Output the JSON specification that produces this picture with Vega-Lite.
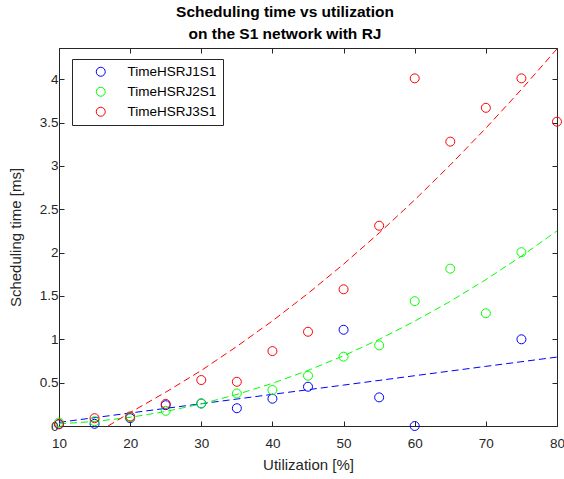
{
  "$schema": "https://vega.github.io/schema/vega-lite/v6.json",
  "width": 498,
  "height": 378,
  "autosize": {"type": "none"},
  "padding": {"left": 59, "top": 48, "right": 7, "bottom": 53},
  "background": "white",
  "title": {
    "text": ["Scheduling time vs utilization", "on the S1 network with RJ"],
    "fontSize": 15.5,
    "fontWeight": "bold",
    "font": "Liberation Sans",
    "color": "black",
    "lineHeight": 22,
    "offset": 5,
    "anchor": "middle",
    "dx": -23
  },
  "datasets": {
    "pts": [
      {"series": "TimeHSRJ1S1", "u": 10, "t": 0.02},
      {"series": "TimeHSRJ1S1", "u": 15, "t": 0.025},
      {"series": "TimeHSRJ1S1", "u": 20, "t": 0.09},
      {"series": "TimeHSRJ1S1", "u": 25, "t": 0.24},
      {"series": "TimeHSRJ1S1", "u": 30, "t": 0.26},
      {"series": "TimeHSRJ1S1", "u": 35, "t": 0.205},
      {"series": "TimeHSRJ1S1", "u": 40, "t": 0.315},
      {"series": "TimeHSRJ1S1", "u": 45, "t": 0.453},
      {"series": "TimeHSRJ1S1", "u": 50, "t": 1.11},
      {"series": "TimeHSRJ1S1", "u": 55, "t": 0.33},
      {"series": "TimeHSRJ1S1", "u": 60, "t": 0.0},
      {"series": "TimeHSRJ1S1", "u": 75, "t": 1.0},
      {"series": "TimeHSRJ2S1", "u": 10, "t": 0.04},
      {"series": "TimeHSRJ2S1", "u": 15, "t": 0.055},
      {"series": "TimeHSRJ2S1", "u": 20, "t": 0.1},
      {"series": "TimeHSRJ2S1", "u": 25, "t": 0.175},
      {"series": "TimeHSRJ2S1", "u": 30, "t": 0.26},
      {"series": "TimeHSRJ2S1", "u": 35, "t": 0.375},
      {"series": "TimeHSRJ2S1", "u": 40, "t": 0.415},
      {"series": "TimeHSRJ2S1", "u": 45, "t": 0.58},
      {"series": "TimeHSRJ2S1", "u": 50, "t": 0.8},
      {"series": "TimeHSRJ2S1", "u": 55, "t": 0.93},
      {"series": "TimeHSRJ2S1", "u": 60, "t": 1.44},
      {"series": "TimeHSRJ2S1", "u": 65, "t": 1.815},
      {"series": "TimeHSRJ2S1", "u": 70, "t": 1.3},
      {"series": "TimeHSRJ2S1", "u": 75, "t": 2.005},
      {"series": "TimeHSRJ3S1", "u": 10, "t": 0.023},
      {"series": "TimeHSRJ3S1", "u": 15, "t": 0.09},
      {"series": "TimeHSRJ3S1", "u": 20, "t": 0.11},
      {"series": "TimeHSRJ3S1", "u": 25, "t": 0.255},
      {"series": "TimeHSRJ3S1", "u": 30, "t": 0.53},
      {"series": "TimeHSRJ3S1", "u": 35, "t": 0.51},
      {"series": "TimeHSRJ3S1", "u": 40, "t": 0.864},
      {"series": "TimeHSRJ3S1", "u": 45, "t": 1.087},
      {"series": "TimeHSRJ3S1", "u": 50, "t": 1.577},
      {"series": "TimeHSRJ3S1", "u": 55, "t": 2.31},
      {"series": "TimeHSRJ3S1", "u": 60, "t": 4.01},
      {"series": "TimeHSRJ3S1", "u": 65, "t": 3.28},
      {"series": "TimeHSRJ3S1", "u": 70, "t": 3.67},
      {"series": "TimeHSRJ3S1", "u": 75, "t": 4.01},
      {"series": "TimeHSRJ3S1", "u": 80, "t": 3.51}
    ],
    "fits": [
      {"curve": "fit1", "u": 10, "t": 0.042},
      {"curve": "fit1", "u": 20, "t": 0.15},
      {"curve": "fit1", "u": 30, "t": 0.257},
      {"curve": "fit1", "u": 40, "t": 0.365},
      {"curve": "fit1", "u": 50, "t": 0.472},
      {"curve": "fit1", "u": 60, "t": 0.58},
      {"curve": "fit1", "u": 70, "t": 0.688},
      {"curve": "fit1", "u": 80, "t": 0.795},
      {"curve": "fit2", "u": 10, "t": 0.025},
      {"curve": "fit2", "u": 15, "t": 0.052},
      {"curve": "fit2", "u": 20, "t": 0.1},
      {"curve": "fit2", "u": 25, "t": 0.167},
      {"curve": "fit2", "u": 30, "t": 0.255},
      {"curve": "fit2", "u": 35, "t": 0.364},
      {"curve": "fit2", "u": 40, "t": 0.492},
      {"curve": "fit2", "u": 45, "t": 0.641},
      {"curve": "fit2", "u": 50, "t": 0.81},
      {"curve": "fit2", "u": 55, "t": 0.999},
      {"curve": "fit2", "u": 60, "t": 1.209},
      {"curve": "fit2", "u": 65, "t": 1.438},
      {"curve": "fit2", "u": 70, "t": 1.688},
      {"curve": "fit2", "u": 75, "t": 1.959},
      {"curve": "fit2", "u": 80, "t": 2.25},
      {"curve": "fit3", "u": 16.9, "t": 0.0},
      {"curve": "fit3", "u": 20, "t": 0.155},
      {"curve": "fit3", "u": 25, "t": 0.39},
      {"curve": "fit3", "u": 30, "t": 0.64},
      {"curve": "fit3", "u": 35, "t": 0.918},
      {"curve": "fit3", "u": 40, "t": 1.212},
      {"curve": "fit3", "u": 45, "t": 1.529},
      {"curve": "fit3", "u": 50, "t": 1.867},
      {"curve": "fit3", "u": 55, "t": 2.226},
      {"curve": "fit3", "u": 60, "t": 2.608},
      {"curve": "fit3", "u": 65, "t": 3.011},
      {"curve": "fit3", "u": 70, "t": 3.435},
      {"curve": "fit3", "u": 75, "t": 3.882},
      {"curve": "fit3", "u": 80, "t": 4.35}
    ]
  },
  "config": {
    "font": "Liberation Sans",
    "view": {"stroke": "#262626", "strokeWidth": 1},
    "axis": {
      "grid": false,
      "labelFlush": false,
      "labelOverlap": false,
      "domainColor": "#262626",
      "tickColor": "#262626",
      "tickSize": -5,
      "labelColor": "#262626",
      "labelFontSize": 13.5,
      "labelFont": "Liberation Sans",
      "titleFont": "Liberation Sans",
      "titleFontSize": 15,
      "titleFontWeight": "normal",
      "titleColor": "#262626"
    }
  },
  "resolve": {"axis": {"x": "independent", "y": "independent"}},
  "layer": [
    {
      "data": {"name": "fits"},
      "mark": {"type": "line", "strokeDash": [7, 4], "strokeWidth": 1, "clip": true},
      "encoding": {
        "x": {
          "field": "u", "type": "quantitative",
          "scale": {"domain": [10, 80], "nice": false, "zero": false, "padding": 0},
          "axis": {"orient": "bottom", "values": [10, 20, 30, 40, 50, 60, 70, 80], "title": "Utilization [%]", "labelPadding": 15, "titlePadding": 8}
        },
        "y": {
          "field": "t", "type": "quantitative",
          "scale": {"domain": [0, 4.36], "nice": false, "zero": false, "padding": 0},
          "axis": {"orient": "left", "values": [0, 0.5, 1, 1.5, 2, 2.5, 3, 3.5, 4], "format": "~g", "title": "Scheduling time [ms]", "labelPadding": 6, "titlePadding": 16}
        },
        "stroke": {
          "field": "curve", "type": "nominal",
          "scale": {"domain": ["fit1", "fit2", "fit3"], "range": ["#0000ff", "#00ff00", "#ff0000"]},
          "legend": null
        }
      }
    },
    {
      "data": {"name": "pts"},
      "mark": {"type": "point", "shape": "circle", "filled": false, "size": 81, "strokeWidth": 1, "opacity": 1},
      "encoding": {
        "x": {
          "field": "u", "type": "quantitative",
          "scale": {"domain": [10, 80], "nice": false, "zero": false, "padding": 0},
          "axis": {"orient": "top", "values": [10, 20, 30, 40, 50, 60, 70, 80], "labels": false, "title": null, "domain": false}
        },
        "y": {
          "field": "t", "type": "quantitative",
          "scale": {"domain": [0, 4.36], "nice": false, "zero": false, "padding": 0},
          "axis": {"orient": "right", "values": [0, 0.5, 1, 1.5, 2, 2.5, 3, 3.5, 4], "labels": false, "title": null, "domain": false}
        },
        "color": {
          "field": "series", "type": "nominal",
          "scale": {"domain": ["TimeHSRJ1S1", "TimeHSRJ2S1", "TimeHSRJ3S1"], "range": ["#0000ff", "#00ff00", "#ff0000"]},
          "legend": {
            "title": null,
            "orient": "none",
            "legendX": 13,
            "legendY": 11,
            "strokeColor": "#262626",
            "fillColor": "white",
            "padding": 6,
            "cornerRadius": 0,
            "labelFontSize": 13.5,
            "labelFont": "Liberation Sans",
            "labelColor": "black",
            "symbolType": "circle",
            "symbolSize": 81,
            "symbolStrokeWidth": 1,
            "symbolFillColor": "transparent",
            "symbolOffset": 16,
            "labelOffset": 20,
            "rowPadding": 5
          }
        }
      }
    }
  ]
}
